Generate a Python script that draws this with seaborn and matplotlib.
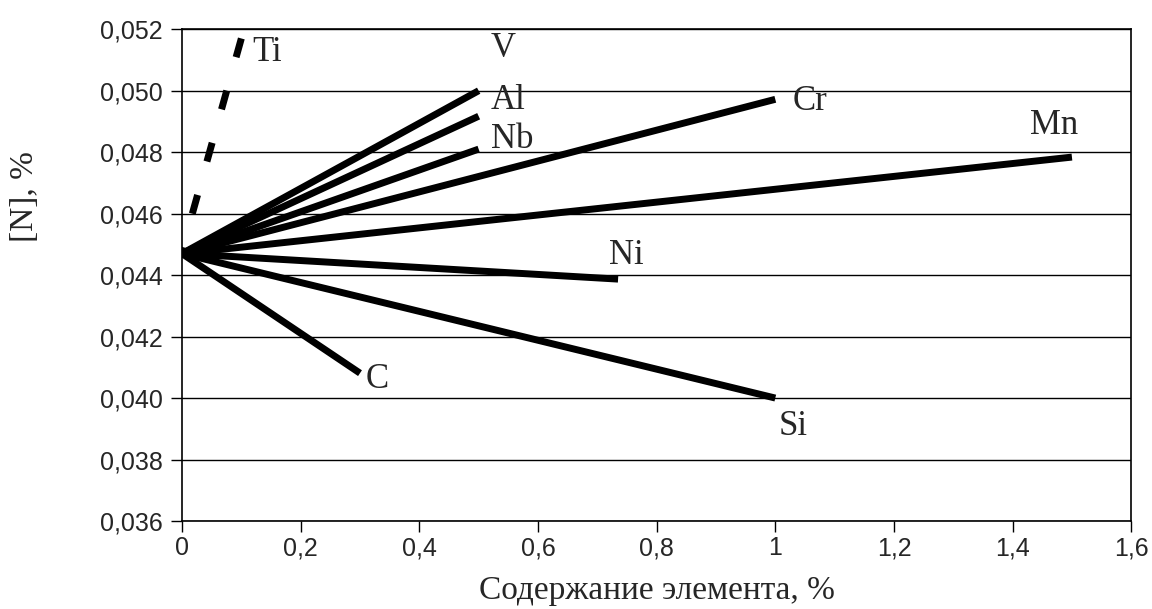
import seaborn as sns
import matplotlib.pyplot as plt
import pandas as pd
from matplotlib.ticker import FuncFormatter

# starting point shared by all lines
x0 = 0.0
n0 = 0.0447

elements = ['V', 'Al', 'Nb', 'Cr', 'Mn', 'Ni', 'Si', 'C']
x_end = [0.5, 0.5, 0.5, 1.0, 1.5, 0.735, 1.0, 0.3]
n_end = [0.0500, 0.04917, 0.0481, 0.04972, 0.04784, 0.04387, 0.0400, 0.04081]

# Ti (dashed), listed from the top end down
ti_x = [0.1, 0.0]
ti_n = [0.0517, 0.0448]

# label positions (data coords)
lab_x = [0.52, 0.52, 0.52, 1.03, 1.43, 0.72, 1.005, 0.31, 0.118]
lab_y = [0.05138, 0.04969, 0.0484, 0.04966, 0.04888, 0.04465, 0.03906, 0.04059, 0.05125]
lab_txt = elements + ['Ti']

rows = []
for el, xe, ne in zip(elements, x_end, n_end):
    rows.append({'element': el, 'x': x0, 'n': n0})
    rows.append({'element': el, 'x': xe, 'n': ne})
df = pd.DataFrame(rows)
df_ti = pd.DataFrame({'element': 'Ti', 'x': ti_x, 'n': ti_n})

sns.set_style('white')
plt.rcParams['font.family'] = ['Liberation Sans', 'DejaVu Sans']
serif = ['Liberation Serif', 'DejaVu Serif']

fig = plt.figure(figsize=(11.52, 6.09), dpi=100)
ax = fig.add_axes([0.158, 0.1445, 0.824, 0.8075])

ax.yaxis.grid(True, color='black', lw=1)
ax.set_axisbelow(True)

sns.lineplot(data=df, x='x', y='n', units='element', estimator=None,
             color='black', lw=5, ax=ax, solid_capstyle='butt')
sns.lineplot(data=df_ti, x='x', y='n', estimator=None, sort=False,
             color='black', lw=5, ax=ax)
ax.lines[-1].set_dashes([2.8, 5])

for t, xx, yy in zip(lab_txt, lab_x, lab_y):
    ax.text(xx, yy, t, ha='left', va='center', fontsize=25, family=serif)

ax.set_xlim(0, 1.6)
ax.set_ylim(0.036, 0.052)
ax.set_xticks([0, 0.2, 0.4, 0.6, 0.8, 1.0, 1.2, 1.4, 1.6])
ax.set_yticks([0.036, 0.038, 0.040, 0.042, 0.044, 0.046, 0.048, 0.050, 0.052])
ax.xaxis.set_major_formatter(FuncFormatter(lambda v, p: ('%g' % round(v, 1)).replace('.', ',')))
ax.yaxis.set_major_formatter(FuncFormatter(lambda v, p: ('%.3f' % v).replace('.', ',')))
ax.tick_params(axis='both', direction='out', length=8, width=1, color='black',
               labelsize=18, left=True, bottom=True, pad=6)
ax.tick_params(axis='x', pad=3)

for s in ax.spines.values():
    s.set_color('black')
    s.set_linewidth(1.2)

ax.set_xlabel('Содержание элемента, %', fontsize=24, family=serif)
ax.xaxis.set_label_coords(0.5, -0.11)
ax.set_ylabel('[N], %', fontsize=24, family=serif)
ax.yaxis.set_label_coords(-0.15, 0.66)

fig.savefig('out.png', dpi=100)
